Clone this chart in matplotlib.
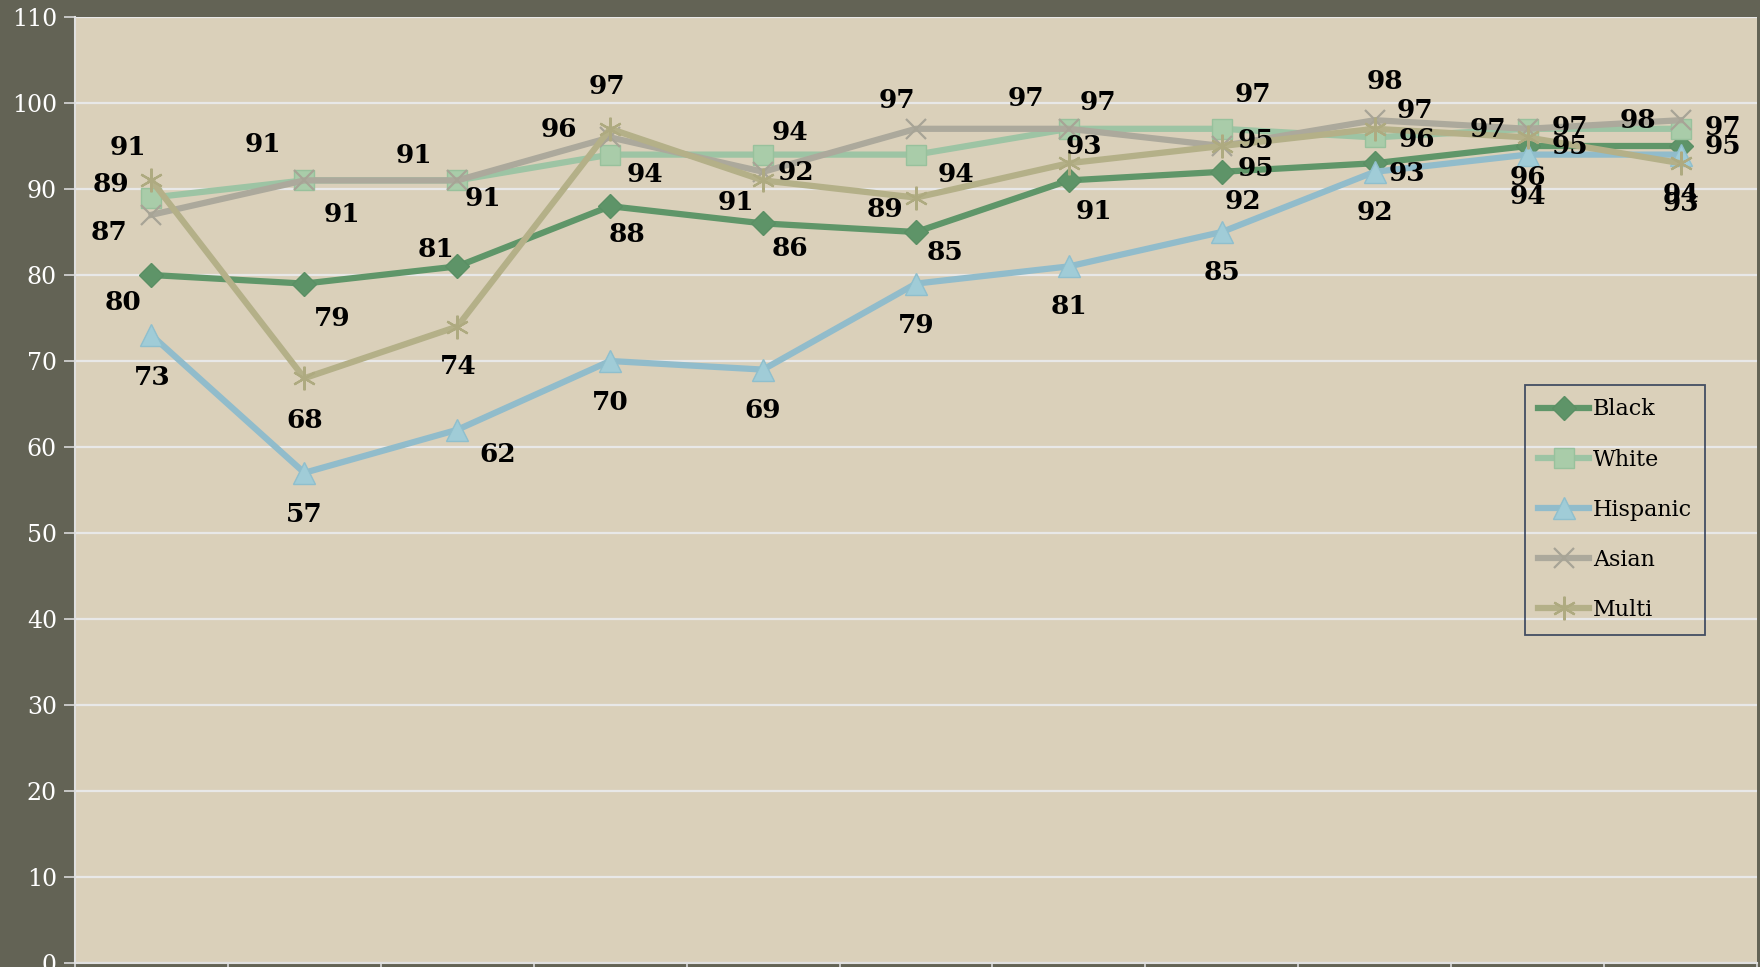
import matplotlib
matplotlib.use("Agg")
import matplotlib.pyplot as plt
import numpy as np

#------------------- data -------------------
categorias = np.arange(1, 12)
black = [80, 79, 81, 88, 86, 85, 91, 92, 93, 95, 95]
white = [89, 91, 91, 94, 94, 94, 97, 97, 96, 97, 97]
hispanic = [73, 57, 62, 70, 69, 79, 81, 85, 92, 94, 94]
asian = [87, 91, 91, 96, 92, 97, 97, 95, 98, 97, 98]
multi = [91, 68, 74, 97, 91, 89, 93, 95, 97, 96, 93]
leyenda = ['Black', 'White', 'Hispanic', 'Asian', 'Multi']
y_ticks = np.arange(0, 111, 10)

# label offsets in pixels (dx, dy), dy measured downwards
off_black = [(-28, 27), (28, 35), (-21, -17), (17, 28), (27, 25), (29, 21),
             (25, 31), (21, 30), (32, 10), (42, 1), (42, 1)]
off_white = [(-41, -13), (38, 34), (26, 18), (35, 20), (27, -22), (40, 20),
             (29, -26), (31, -34), (42, 2), (42, -1), (42, -1)]
off_hisp = [(1, 42), (0, 42), (40, 25), (0, 42), (0, 41), (0, 42),
            (0, 40), (0, 40), (0, 41), (0, 42), (0, 40)]
off_asian = [(-42, 18), (-41, -36), (-43, -25), (-51, -8), (33, 1), (-19, -28),
             (-43, -30), (34, 22), (10, -39), (-40, 1), (-43, 0)]
off_multi = [(-24, -33), (0, 42), (1, 40), (-3, -42), (-27, 22), (-31, 12),
             (15, -17), (34, -6), (40, -18), (0, 40), (0, 40)]
#--------------------------------------------

fondo = '#636355'
papel = '#dad0ba'

fig = plt.figure(figsize=(17.6, 9.67), dpi=100, facecolor=fondo)
ax = fig.add_axes([75/1760, 4/967, 1682/1760, 946/967])
ax.set_facecolor(papel)

series = [
    (black, off_black, dict(color='#5f9669', marker='D', markersize=12,
                            markerfacecolor='#5e9468', markeredgecolor='#5a8f64')),
    (white, off_white, dict(color='#9dc4a4', marker='s', markersize=14,
                            markerfacecolor='#a9cca9', markeredgecolor='#98c19c')),
    (hispanic, off_hisp, dict(color='#91bccb', marker='^', markersize=16,
                              markerfacecolor='#a0ccd7', markeredgecolor='#8fbfcd')),
    (asian, off_asian, dict(color='#aca99c', marker='x', markersize=15,
                            markeredgewidth=1.6, markeredgecolor='#a7a496')),
    (multi, off_multi, dict(color='#b4b088', marker=(6, 2, 0), markersize=17,
                            markeredgewidth=1.6, markeredgecolor='#aeaa80')),
]

for (valores, offs, estilo), nombre in zip(series, leyenda):
    ax.plot(categorias, valores, lw=4.5, label=nombre, zorder=3, **estilo)

for valores, offs, estilo in series:
    for xi, v, (dx, dy) in zip(categorias, valores, offs):
        ax.annotate(str(v), (xi, v), xytext=(dx, -dy), textcoords='offset pixels',
                    ha='center', va='center', fontsize=19, fontweight='bold',
                    family='DejaVu Serif', color='black', zorder=5)

ax.set_xlim(0.5, 11.5)
ax.set_ylim(0, 110)
ax.set_yticks(y_ticks)
ax.set_xticks(np.arange(0.5, 12, 1))
ax.set_xticklabels([])
ax.yaxis.grid(True, color='#e8e8e8', lw=1.6)
ax.set_axisbelow(True)
ax.tick_params(axis='y', colors='#d8d8d8', labelcolor='white', labelsize=17,
               length=8, width=1.2, pad=5)
ax.tick_params(axis='x', colors='#d8d8d8', length=6, width=1.2)
for lbl in ax.get_yticklabels():
    lbl.set_family('DejaVu Serif')
for lado in ['top', 'right']:
    ax.spines[lado].set_visible(False)
for lado in ['left', 'bottom']:
    ax.spines[lado].set_color('#e0e0e0')
    ax.spines[lado].set_linewidth(1.5)

leg = ax.legend(loc='upper left', bbox_to_anchor=(0.862, 0.611), frameon=True,
                prop={'family': 'DejaVu Serif', 'size': 16}, labelspacing=1.27,
                handlelength=2.3, handletextpad=0.15, borderpad=0.6,
                fancybox=False, borderaxespad=0)
leg.get_frame().set_facecolor('none')
leg.get_frame().set_edgecolor('#1d2d4d')
leg.get_frame().set_linewidth(1.3)

fig.savefig('out.png', dpi=100, facecolor=fondo)
